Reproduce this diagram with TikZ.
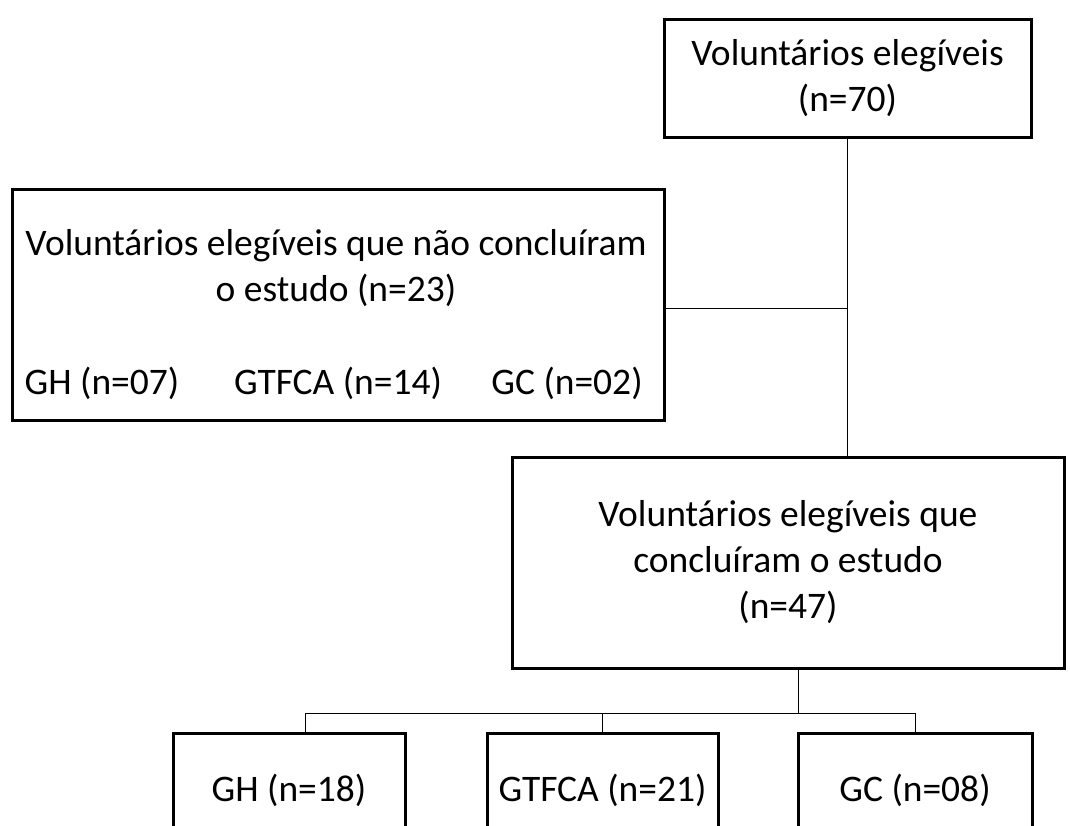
\documentclass[tikz,border=0pt]{standalone}
\usepackage{fontspec}
\setmainfont{Carlito}
\begin{document}
\begin{tikzpicture}[x=1pt,y=-1pt,
  box/.style={draw, line width=3pt, inner sep=0pt, align=center,
    font=\fontsize{37.5}{46}\selectfont},
  txt/.style={inner sep=0pt, align=center, font=\fontsize{37.5}{46}\selectfont},
  link/.style={line width=1pt}]
\useasboundingbox (0,0) rectangle (1070,825);
\clip (0,0) rectangle (1070,825);

% eligible volunteers
\node[box, minimum width=367pt, minimum height=118pt] (elig) at (847.5,78)
  {Volunt\'arios eleg\'iveis\\(n=70)};

% volunteers who dropped out
\node[box, minimum width=652pt, minimum height=231pt] (drop) at (338,304.5) {};
\node[txt] (dropt) at (336,268) {Voluntários elegíveis que não concluíram\\o estudo (n=23)};
\node[txt] (dgh) at (102,383) {GH (n=07)};
\node[txt] (dgt) at (338,383) {GTFCA (n=14)};
\node[txt] (dgc) at (567,383) {GC (n=02)};

% volunteers who completed the study
\node[box, minimum width=552pt, minimum height=211pt] (done) at (788,562.5)
  {Voluntários elegíveis que\\concluíram o estudo\\(n=47)};

% groups
\node[box, minimum width=232pt, minimum height=114pt] (gh) at (289,790) {GH (n=18)};
\node[box, minimum width=231pt, minimum height=114pt] (gt) at (602.5,790) {GTFCA (n=21)};
\node[box, minimum width=234pt, minimum height=114pt] (gc) at (915,790) {GC (n=08)};

% connectors
\coordinate (trunk) at (elig.south);
\coordinate (split) at (798,713);
\coordinate (lft) at (305,713);
\coordinate (rgt) at (915,713);
\draw[link] (elig.south) -- (done.north -| trunk);
\draw[link] ([yshift=-4pt]drop.east) -- ([yshift=-4pt]drop.east -| trunk);
\draw[link] (done.south -| split) -- (split);
\draw[link] (lft) -- (rgt);
\draw[link] (lft) -- (gh.north -| lft);
\draw[link] (gt.north |- split) -- (gt.north);
\draw[link] (rgt) -- (gc.north -| rgt);
\end{tikzpicture}
\end{document}
